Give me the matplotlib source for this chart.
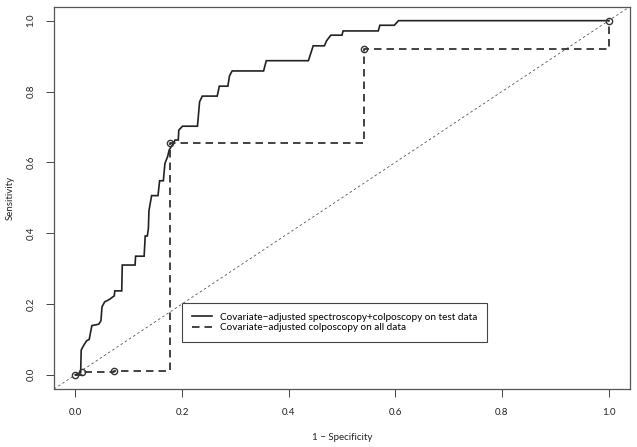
import matplotlib
matplotlib.use("Agg")
import matplotlib.pyplot as plt
import numpy as np

plt.rcParams['font.family'] = ['Lato', 'DejaVu Sans']

# Solid ROC curve (spectroscopy + colposcopy, test data): vertices (FPR, TPR)
solid_fpr = [0.000, 0.010, 0.011, 0.016, 0.021, 0.026, 0.031, 0.044, 0.048, 0.050,
             0.055, 0.064, 0.073, 0.074, 0.087, 0.088, 0.112, 0.113, 0.129, 0.131,
             0.135, 0.137, 0.138, 0.143, 0.155, 0.158, 0.165, 0.168, 0.173, 0.176,
             0.183, 0.187, 0.193, 0.194, 0.201, 0.229, 0.233, 0.238, 0.266, 0.270,
             0.286, 0.289, 0.294, 0.353, 0.358, 0.437, 0.446, 0.467, 0.471, 0.479,
             0.500, 0.502, 0.568, 0.571, 0.598, 0.606, 1.000]
solid_tpr = [0.000, 0.006, 0.070, 0.084, 0.096, 0.100, 0.139, 0.143, 0.153, 0.192,
             0.206, 0.213, 0.223, 0.237, 0.237, 0.310, 0.310, 0.335, 0.335, 0.392,
             0.392, 0.414, 0.463, 0.506, 0.506, 0.548, 0.548, 0.597, 0.616, 0.635,
             0.652, 0.663, 0.663, 0.691, 0.702, 0.702, 0.771, 0.787, 0.787, 0.815,
             0.815, 0.844, 0.858, 0.858, 0.887, 0.887, 0.929, 0.929, 0.943, 0.959,
             0.959, 0.971, 0.971, 0.987, 0.987, 1.000, 1.000]

# Dashed ROC curve (colposcopy, all data): operating points
dash_fpr = [0.000, 0.013, 0.073, 0.178, 0.541, 1.000]
dash_tpr = [0.000, 0.008, 0.010, 0.656, 0.920, 1.000]

legend_labels = ["Covariate\u2212adjusted spectroscopy+colposcopy on test data",
                 "Covariate\u2212adjusted colposcopy on all data"]
ticks = [0.0, 0.2, 0.4, 0.6, 0.8, 1.0]

W, H = 637, 447
fig = plt.figure(figsize=(W / 100, H / 100), dpi=100)
ax = fig.add_axes([54 / W, 1 - 389 / H, (630 - 54) / W, (389 - 6.5) / H])

ax.set_xlim(-0.04, 1.04)
ax.set_ylim(-0.04, 1.04)

# chance diagonal
ax.plot([-0.04, 1.04], [-0.04, 1.04], color='#555555', lw=0.6,
        dashes=(3, 3), zorder=1)

l1, = ax.plot(solid_fpr, solid_tpr, color='#222222', lw=1.2, zorder=3,
              solid_joinstyle='miter')
l2, = ax.plot(dash_fpr, dash_tpr, color='#222222', lw=1.2, drawstyle='steps-post',
              dashes=(4.5, 3), zorder=2)
ax.plot(dash_fpr, dash_tpr, linestyle='none', marker='o', markersize=4.5,
        mfc='none', mec='#333333', mew=1.0, zorder=4)

ax.set_xticks(ticks)
ax.set_yticks(ticks)
ax.set_xticklabels([f"{t:.1f}" for t in ticks])
ax.set_yticklabels([f"{t:.1f}" for t in ticks], rotation=90, va='center')
ax.tick_params(direction='out', length=5.5, width=0.7, colors='#444444',
               labelsize=7, labelcolor='#222222', pad=8)
for s in ax.spines.values():
    s.set_color('#555555')
    s.set_linewidth(0.9)

ax.set_xlabel("1 \u2212 Specificity", fontsize=7, color='#222222', labelpad=12)
ax.set_ylabel("Sensitivity", fontsize=7, color='#222222', labelpad=8)

leg = ax.legend([l1, l2], legend_labels, loc='lower left',
                bbox_to_anchor=((182 - 54) / 576, (389 - 342) / 382.5),
                fontsize=7.2, frameon=True, fancybox=False, framealpha=1,
                edgecolor='#444444', handlelength=2.0, handletextpad=0.8,
                borderpad=1.0, labelspacing=0.15, borderaxespad=0)
leg.get_frame().set_linewidth(0.8)
fig.canvas.draw()
# widen the legend frame on the right to match the reference box
frame = leg.get_frame()
frame.set_width(frame.get_width() + 9)

fig.savefig("out.png", dpi=100)
